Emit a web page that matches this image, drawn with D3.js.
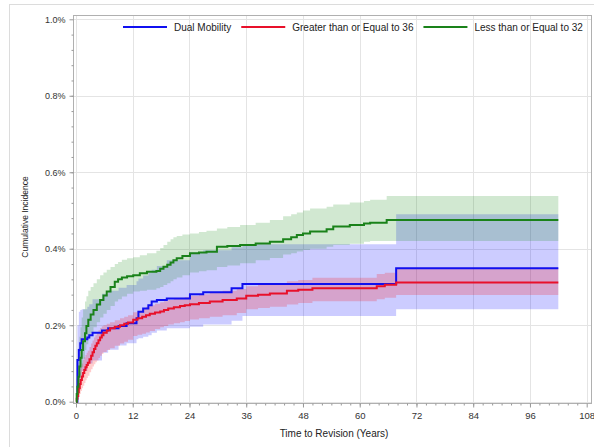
<!DOCTYPE html>
<html>
<head>
<meta charset="utf-8">
<script src="https://cdn.jsdelivr.net/npm/d3@7"></script>
<style>
  html, body { margin: 0; padding: 0; background: #fff; }
  svg { display: block; font-family: "Liberation Sans", Arial, sans-serif; }
</style>
</head>
<body>
<svg id="chart" width="594" height="447"></svg>
<script>
// time (x) and cumulative incidence in percent (y)
var dmTime = [0, 0.3, 0.6, 0.9, 1.2, 2.4, 2.8, 3.5, 5.5, 6.8, 9.0, 10.7, 12.8, 13.2, 14.2, 15.3, 16.0, 17.1, 19.2, 24.1, 26.9, 32.9, 35.2, 67.7, 102];
var dmEst  = [0, 0.109, 0.135, 0.153, 0.163, 0.168, 0.174, 0.180, 0.186, 0.192, 0.198, 0.205, 0.218, 0.235, 0.244, 0.252, 0.262, 0.266, 0.270, 0.281, 0.286, 0.297, 0.308, 0.349, 0.349];
var dmLow  = [0, 0.02, 0.045, 0.065, 0.08, 0.095, 0.10, 0.108, 0.128, 0.136, 0.147, 0.153, 0.163, 0.166, 0.170, 0.174, 0.180, 0.186, 0.192, 0.196, 0.202, 0.212, 0.224, 0.242, 0.242];
var dmHigh = [0, 0.20, 0.235, 0.24, 0.242, 0.248, 0.255, 0.268, 0.282, 0.29, 0.298, 0.305, 0.315, 0.322, 0.33, 0.338, 0.345, 0.355, 0.37, 0.39, 0.396, 0.404, 0.412, 0.49, 0.49];

var geTime = [0, 0.15, 0.3, 0.45, 0.6, 0.8, 1.0, 1.25, 1.5, 1.75, 2.0, 2.25, 2.5, 2.85, 3.2, 3.5, 3.8, 4.1, 4.4, 4.75, 5.1, 5.45, 5.8, 6.5, 7.2, 8.2, 9.3, 10.2, 11, 12.1, 13, 14, 14.8, 15.6, 16.7, 17.8, 18.6, 19.5, 20.7, 22, 23, 24.1, 26, 28.3, 31, 34, 36, 38.5, 41, 44.6, 47, 50, 63.6, 65.3, 67.7, 102];
var geEst  = [0, 0.008, 0.015, 0.025, 0.035, 0.046, 0.057, 0.066, 0.075, 0.083, 0.09, 0.096, 0.102, 0.111, 0.12, 0.129, 0.138, 0.146, 0.153, 0.161, 0.168, 0.174, 0.18, 0.186, 0.192, 0.196, 0.2, 0.204, 0.207, 0.214, 0.218, 0.222, 0.226, 0.23, 0.233, 0.236, 0.24, 0.244, 0.247, 0.25, 0.252, 0.255, 0.258, 0.262, 0.266, 0.27, 0.277, 0.28, 0.283, 0.29, 0.293, 0.297, 0.302, 0.306, 0.312, 0.312];
var geLow  = [0, 0.001, 0.003, 0.007, 0.012, 0.02, 0.028, 0.035, 0.042, 0.049, 0.056, 0.062, 0.068, 0.077, 0.085, 0.092, 0.098, 0.103, 0.108, 0.114, 0.12, 0.125, 0.13, 0.135, 0.14, 0.146, 0.152, 0.157, 0.162, 0.172, 0.175, 0.178, 0.181, 0.185, 0.19, 0.195, 0.198, 0.202, 0.205, 0.208, 0.211, 0.215, 0.218, 0.222, 0.226, 0.232, 0.242, 0.245, 0.248, 0.254, 0.258, 0.263, 0.268, 0.272, 0.279, 0.279];
var geHigh = [0, 0.025, 0.04, 0.053, 0.065, 0.078, 0.09, 0.1, 0.11, 0.116, 0.122, 0.128, 0.133, 0.143, 0.152, 0.16, 0.168, 0.174, 0.18, 0.187, 0.193, 0.197, 0.2, 0.204, 0.208, 0.213, 0.218, 0.222, 0.226, 0.234, 0.238, 0.243, 0.248, 0.252, 0.256, 0.26, 0.263, 0.266, 0.269, 0.272, 0.274, 0.277, 0.281, 0.285, 0.29, 0.295, 0.302, 0.305, 0.308, 0.315, 0.318, 0.324, 0.334, 0.337, 0.35, 0.35];

var leTime = [0, 0.15, 0.3, 0.5, 0.7, 0.95, 1.2, 1.5, 1.9, 2.2, 2.6, 3.1, 3.7, 4.4, 5.1, 5.8, 6.5, 7.3, 8.2, 8.9, 9.7, 10.8, 12.1, 13.5, 15, 17, 17.8, 18.5, 19.3, 20, 20.6, 21.3, 22.5, 24.1, 26, 27.6, 29.8, 32, 34.7, 38, 41, 43.8, 45.5, 46.7, 48, 49.5, 53, 54.4, 57.9, 60.9, 62.2, 65.7, 102];
var leEst  = [0, 0.02, 0.039, 0.065, 0.092, 0.115, 0.135, 0.158, 0.179, 0.198, 0.214, 0.228, 0.24, 0.254, 0.266, 0.278, 0.288, 0.30, 0.314, 0.32, 0.325, 0.328, 0.331, 0.336, 0.34, 0.342, 0.348, 0.353, 0.358, 0.364, 0.37, 0.375, 0.381, 0.388, 0.39, 0.392, 0.405, 0.407, 0.41, 0.414, 0.418, 0.425, 0.43, 0.436, 0.44, 0.445, 0.451, 0.458, 0.462, 0.466, 0.468, 0.475, 0.475];
var leLow  = [0, 0.004, 0.012, 0.03, 0.05, 0.07, 0.09, 0.112, 0.135, 0.15, 0.165, 0.18, 0.195, 0.208, 0.22, 0.23, 0.24, 0.25, 0.262, 0.268, 0.275, 0.282, 0.288, 0.29, 0.293, 0.297, 0.30, 0.305, 0.31, 0.315, 0.32, 0.325, 0.331, 0.338, 0.341, 0.344, 0.352, 0.356, 0.362, 0.37, 0.376, 0.385, 0.388, 0.393, 0.397, 0.40, 0.405, 0.41, 0.413, 0.418, 0.42, 0.42, 0.42];
var leHigh = [0, 0.06, 0.10, 0.14, 0.17, 0.195, 0.22, 0.242, 0.262, 0.276, 0.29, 0.30, 0.31, 0.32, 0.331, 0.338, 0.345, 0.352, 0.36, 0.365, 0.371, 0.375, 0.378, 0.383, 0.388, 0.395, 0.402, 0.41, 0.418, 0.425, 0.43, 0.433, 0.437, 0.44, 0.444, 0.447, 0.453, 0.457, 0.462, 0.468, 0.475, 0.485, 0.49, 0.495, 0.5, 0.505, 0.51, 0.516, 0.521, 0.525, 0.528, 0.538, 0.538];

var groupNames = ['Dual Mobility', 'Greater than or Equal to 36', 'Less than or Equal to 32'];
var xTicks = [0, 12, 24, 36, 48, 60, 72, 84, 96, 108];
var yTicks = [0, 0.2, 0.4, 0.6, 0.8, 1.0];

var colors = ['#1010f0', '#e8102a', '#1a821a'];
var bandColors = ['#0000ff', '#ff0000', '#1a8a1a'];

function rows(t, e, lo, hi) {
	return t.map(function(d, i) {
		return { t: d, est: e[i], lo: lo[i], hi: hi[i] };
	});
}

var groups = [
	rows(dmTime, dmEst, dmLow, dmHigh),
	rows(geTime, geEst, geLow, geHigh),
	rows(leTime, leEst, leLow, leHigh)
];

var svg = d3.select('#chart');

var plotLeft = 73.5, plotTop = 15.5, plotRight = 591.5, plotBottom = 403.5;

var x = d3.scaleLinear().domain([0, 108]).range([76, 586.7]);
var y = d3.scaleLinear().domain([0, 1]).range([401.7, 19.3]);

// outer border
svg.append('rect')
	.attr('x', 9.5).attr('y', 4.5)
	.attr('width', 620).attr('height', 470)
	.attr('fill', 'none')
	.attr('stroke', '#dcdcdc');

// grid
svg.append('g').selectAll('line.gx')
	.data(xTicks).enter().append('line')
	.attr('x1', function(d) { return Math.round(x(d)) + 0.5; })
	.attr('x2', function(d) { return Math.round(x(d)) + 0.5; })
	.attr('y1', plotTop).attr('y2', plotBottom)
	.attr('stroke', '#e4e4e4');

svg.append('g').selectAll('line.gy')
	.data(yTicks).enter().append('line')
	.attr('y1', function(d) { return Math.round(y(d)) + 0.5; })
	.attr('y2', function(d) { return Math.round(y(d)) + 0.5; })
	.attr('x1', plotLeft).attr('x2', plotRight)
	.attr('stroke', '#e4e4e4');

// bands
var band = d3.area()
	.curve(d3.curveStepAfter)
	.x(function(d) { return x(d.t); })
	.y0(function(d) { return y(d.lo); })
	.y1(function(d) { return y(d.hi); });

groups.forEach(function(g, i) {
	svg.append('path')
		.datum(g)
		.attr('d', band)
		.attr('fill', bandColors[i])
		.attr('fill-opacity', 0.2);
});

// lines
var line = d3.line()
	.curve(d3.curveStepAfter)
	.x(function(d) { return x(d.t); })
	.y(function(d) { return y(d.est); });

groups.forEach(function(g, i) {
	svg.append('path')
		.datum(g)
		.attr('d', line)
		.attr('fill', 'none')
		.attr('stroke', colors[i])
		.attr('stroke-width', 2);
});

// frame
svg.append('rect')
	.attr('x', plotLeft).attr('y', plotTop)
	.attr('width', plotRight - plotLeft).attr('height', plotBottom - plotTop)
	.attr('fill', 'none')
	.attr('stroke', '#b0b0b0');

// axes
var yAxis = svg.append('g')
	.attr('transform', 'translate(' + plotLeft + ',0)')
	.call(d3.axisLeft(y).tickValues(yTicks).tickSize(4).tickPadding(4)
		.tickFormat(function(d) { return d.toFixed(1) + '%'; }));
svg.append('g')
	.attr('transform', 'translate(' + plotLeft + ',0)')
	.call(d3.axisLeft(y).tickValues(d3.range(0.04, 1, 0.04)).tickSize(2).tickFormat(''));

var xAxis = svg.append('g')
	.attr('transform', 'translate(0,' + plotBottom + ')')
	.call(d3.axisBottom(x).tickValues(xTicks).tickSize(4).tickPadding(5));
svg.append('g')
	.attr('transform', 'translate(0,' + plotBottom + ')')
	.call(d3.axisBottom(x).tickValues(d3.range(2, 108, 2)).tickSize(2).tickFormat(''));

svg.selectAll('.domain').remove();
svg.selectAll('.tick line').attr('stroke', '#999');
yAxis.selectAll('text').attr('font-size', 9).attr('fill', '#333').attr('font-family', 'Liberation Sans, Arial, sans-serif');
xAxis.selectAll('text').attr('font-size', 9.5).attr('fill', '#333').attr('font-family', 'Liberation Sans, Arial, sans-serif');

// axis labels
svg.append('text')
	.attr('transform', 'translate(28,217) rotate(-90)')
	.attr('text-anchor', 'middle')
	.attr('font-size', 8.5)
	.attr('fill', '#222')
	.text('Cumulative Incidence');

svg.append('text')
	.attr('x', 334).attr('y', 437)
	.attr('text-anchor', 'middle')
	.attr('font-size', 10)
	.attr('fill', '#222')
	.text('Time to Revision (Years)');

// legend
var lx = 123;
groupNames.forEach(function(name, i) {
	svg.append('line')
		.attr('x1', lx).attr('x2', lx + 44)
		.attr('y1', 27).attr('y2', 27)
		.attr('stroke', colors[i])
		.attr('stroke-width', 2);
	var t = svg.append('text')
		.attr('x', lx + 51).attr('y', 30.5)
		.attr('font-size', 10)
		.attr('fill', '#222')
		.text(name);
	lx = lx + 51 + t.node().getComputedTextLength() + 10;
});
</script>
</body>
</html>
